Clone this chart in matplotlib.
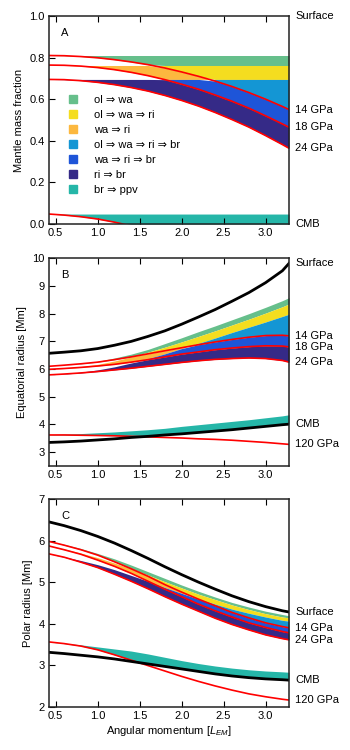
import numpy as np
import matplotlib
matplotlib.use('Agg')
from matplotlib import pyplot as plt
from matplotlib.patches import Patch

plt.rcParams['font.family'] = ['Liberation Sans', 'DejaVu Sans']
plt.rcParams['mathtext.fontset'] = 'custom'
plt.rcParams['mathtext.rm'] = 'Liberation Sans'
plt.rcParams['mathtext.it'] = 'Liberation Sans:italic'
plt.rcParams['font.size'] = 8

# angular momentum [L_EM]
L = np.array([0.42, 0.6, 0.8, 1.0, 1.2, 1.4, 1.6, 1.8, 2.0, 2.2, 2.4, 2.6, 2.8, 3.0, 3.2, 3.28])

# A: mantle mass fraction of the pressure surfaces
c14_a = [0.810, 0.809, 0.805, 0.799, 0.790, 0.779, 0.766, 0.750, 0.731, 0.710, 0.687, 0.661, 0.632, 0.600, 0.565, 0.550]
c18_a = [0.764, 0.763, 0.759, 0.752, 0.742, 0.729, 0.713, 0.694, 0.672, 0.648, 0.620, 0.590, 0.557, 0.520, 0.481, 0.465]
c24_a = [0.695, 0.694, 0.689, 0.681, 0.670, 0.656, 0.639, 0.618, 0.594, 0.567, 0.536, 0.502, 0.466, 0.425, 0.382, 0.364]
c120_a = [0.048, 0.043, 0.035, 0.024, 0.009, -0.009, -0.03, -0.05, -0.07, -0.09, -0.11, -0.13, -0.15, -0.17, -0.19, -0.20]
# initial transition levels (mass fraction)
lev81, lev765, lev70, lev05 = 0.81, 0.762, 0.695, 0.048

# B: equatorial radius [Mm]
surf_b = [6.57, 6.61, 6.66, 6.74, 6.86, 7.00, 7.18, 7.38, 7.62, 7.88, 8.15, 8.45, 8.76, 9.12, 9.55, 9.82]
cmb_b = [3.35, 3.37, 3.40, 3.44, 3.48, 3.53, 3.57, 3.62, 3.66, 3.71, 3.76, 3.81, 3.87, 3.93, 3.99, 4.01]
c14_b = [6.10, 6.14, 6.19, 6.25, 6.34, 6.44, 6.55, 6.66, 6.77, 6.88, 6.98, 7.07, 7.15, 7.21, 7.22, 7.20]
c18_b = [5.99, 6.02, 6.06, 6.11, 6.17, 6.25, 6.34, 6.44, 6.54, 6.62, 6.70, 6.76, 6.81, 6.84, 6.83, 6.80]
c24_b = [5.79, 5.82, 5.86, 5.91, 5.97, 6.03, 6.10, 6.17, 6.24, 6.30, 6.35, 6.38, 6.40, 6.38, 6.31, 6.25]
c120_b = [3.62, 3.62, 3.61, 3.60, 3.59, 3.57, 3.55, 3.53, 3.51, 3.48, 3.46, 3.43, 3.39, 3.35, 3.30, 3.28]
r81_b = [6.10, 6.14, 6.20, 6.28, 6.40, 6.54, 6.71, 6.92, 7.13, 7.35, 7.56, 7.78, 8.00, 8.23, 8.47, 8.58]
r765_b = [5.99, 6.03, 6.09, 6.17, 6.29, 6.44, 6.61, 6.79, 6.98, 7.18, 7.38, 7.59, 7.80, 8.02, 8.25, 8.35]
r70_b = [5.79, 5.83, 5.89, 5.97, 6.08, 6.22, 6.38, 6.55, 6.74, 6.93, 7.12, 7.32, 7.51, 7.70, 7.90, 7.98]
r05_b = [3.63, 3.65, 3.67, 3.70, 3.73, 3.77, 3.81, 3.86, 3.93, 3.99, 4.05, 4.11, 4.17, 4.24, 4.31, 4.35]

# C: polar radius [Mm]
surf_c = [6.45, 6.36, 6.24, 6.10, 5.94, 5.76, 5.57, 5.37, 5.18, 5.00, 4.83, 4.67, 4.53, 4.41, 4.31, 4.28]
cmb_c = [3.31, 3.28, 3.24, 3.20, 3.15, 3.09, 3.03, 2.97, 2.91, 2.85, 2.79, 2.74, 2.70, 2.67, 2.65, 2.64]
c14_c = [5.98, 5.89, 5.78, 5.65, 5.49, 5.32, 5.14, 4.94, 4.76, 4.59, 4.43, 4.27, 4.14, 4.02, 3.93, 3.90]
c18_c = [5.87, 5.78, 5.67, 5.53, 5.38, 5.21, 5.02, 4.83, 4.65, 4.47, 4.31, 4.16, 4.02, 3.91, 3.81, 3.78]
c24_c = [5.68, 5.60, 5.48, 5.35, 5.19, 5.02, 4.84, 4.65, 4.47, 4.30, 4.13, 3.98, 3.85, 3.73, 3.64, 3.61]
c120_c = [3.56, 3.52, 3.46, 3.37, 3.25, 3.12, 2.99, 2.86, 2.73, 2.61, 2.50, 2.40, 2.31, 2.24, 2.18, 2.16]
r81_c = [5.98, 5.91, 5.81, 5.69, 5.56, 5.41, 5.25, 5.09, 4.93, 4.78, 4.64, 4.51, 4.40, 4.30, 4.22, 4.19]
r765_c = [5.87, 5.80, 5.70, 5.59, 5.46, 5.32, 5.17, 5.01, 4.86, 4.71, 4.58, 4.45, 4.34, 4.24, 4.16, 4.14]
r70_c = [5.68, 5.61, 5.52, 5.42, 5.30, 5.16, 5.02, 4.87, 4.73, 4.60, 4.47, 4.35, 4.25, 4.16, 4.08, 4.06]
r05_c = [3.56, 3.53, 3.49, 3.44, 3.39, 3.34, 3.27, 3.19, 3.11, 3.04, 2.98, 2.93, 2.89, 2.86, 2.84, 2.83]

names = ['ol ⇒ wa', 'ol ⇒ wa ⇒ ri', 'wa ⇒ ri', 'ol ⇒ wa ⇒ ri ⇒ br',
         'wa ⇒ ri ⇒ br', 'ri ⇒ br', 'br ⇒ ppv']
colors = ['#66bf8b', '#f4dd1f', '#fcb83f', '#1496d4', '#1e55d8', '#352a87', '#25b6a8']


def band(ax, lo, hi, col):
    ax.fill_between(L, lo, hi, where=hi > lo, interpolate=True, color=col, lw=0)


def draw_panel(ax, c14, c18, c24, c120, r81, r765, r70, r05, cmb):
    c14, c18, c24, c120 = map(np.asarray, (c14, c18, c24, c120))
    r81, r765, r70, r05, cmb = map(np.asarray, (r81, r765, r70, r05, cmb))
    band(ax, np.maximum(r765, c14), r81, colors[0])
    band(ax, np.maximum(r70, c14), r765, colors[1])
    band(ax, np.maximum(r70, c18), np.minimum(c14, r765), colors[2])
    band(ax, c14, r70, colors[3])
    band(ax, c18, np.minimum(c14, r70), colors[4])
    band(ax, c24, np.minimum(c18, r70), colors[5])
    band(ax, np.maximum(c120, cmb), r05, colors[6])
    for c in (c14, c18, c24, c120):
        ax.plot(L, c, color='red', lw=1.2)


def style(ax, letter):
    ax.set_xlim(L[0], L[-1])
    ax.set_xticks([0.5, 1.0, 1.5, 2.0, 2.5, 3.0])
    ax.tick_params(direction='in', top=True, right=False, length=4.3, width=0.8,
                   labelsize=8, pad=3)
    for s in ax.spines.values():
        s.set_linewidth(1.1)
        s.set_color('#222222')
    ax.text(0.05, 0.92, letter, transform=ax.transAxes, va='center', fontsize=8)


def side_labels(ax, items):
    tr = ax.get_yaxis_transform()
    for txt, y in items:
        ax.text(1.025, y, txt, transform=tr, va='center', ha='left', fontsize=8)


fig = plt.figure(figsize=(3.5, 7.5), dpi=100)
axA = fig.add_axes([0.14, 0.7013, 0.686, 0.2774])
axB = fig.add_axes([0.14, 0.3787, 0.686, 0.2769])
axC = fig.add_axes([0.14, 0.0577, 0.686, 0.2769])

# A
n = len(L)
draw_panel(axA, c14_a, c18_a, c24_a, c120_a,
           np.full(n, lev81), np.full(n, lev765), np.full(n, lev70), np.full(n, lev05),
           np.zeros(n))
axA.set_ylim(0, 1)
axA.set_yticks([0, 0.2, 0.4, 0.6, 0.8, 1.0])
axA.set_ylabel('Mantle mass fraction', fontsize=8)
style(axA, 'A')
side_labels(axA, [('Surface', 1.0), ('14 GPa', c14_a[-1]), ('18 GPa', c18_a[-1]),
                  ('24 GPa', c24_a[-1]), ('CMB', 0.0)])
handles = [Patch(color=c, label=t) for c, t in zip(colors, names)]
axA.legend(handles=handles, loc='upper left', bbox_to_anchor=(0.083, 0.62),
           frameon=False, borderpad=0, borderaxespad=0, handlelength=0.75,
           handleheight=0.75, handletextpad=1.5, labelspacing=0.45, fontsize=8)

# B
draw_panel(axB, c14_b, c18_b, c24_b, c120_b, r81_b, r765_b, r70_b, r05_b, cmb_b)
axB.plot(L, surf_b, color='black', lw=2)
axB.plot(L, cmb_b, color='black', lw=2)
axB.set_ylim(2.5, 10)
axB.set_yticks(range(3, 11))
axB.set_ylabel('Equatorial radius [Mm]', fontsize=8)
style(axB, 'B')
side_labels(axB, [('Surface', surf_b[-1]), ('14 GPa', c14_b[-1]), ('18 GPa', c18_b[-1]),
                  ('24 GPa', c24_b[-1]), ('CMB', cmb_b[-1]), ('120 GPa', c120_b[-1])])

# C
draw_panel(axC, c14_c, c18_c, c24_c, c120_c, r81_c, r765_c, r70_c, r05_c, cmb_c)
axC.plot(L, surf_c, color='black', lw=2)
axC.plot(L, cmb_c, color='black', lw=2)
axC.set_ylim(2, 7)
axC.set_yticks(range(2, 8))
axC.set_ylabel('Polar radius [Mm]', fontsize=8)
axC.set_xlabel(r'Angular momentum [$L_{EM}$]', fontsize=8, labelpad=2)
style(axC, 'C')
side_labels(axC, [('Surface', surf_c[-1]), ('14 GPa', c14_c[-1]), ('24 GPa', c24_c[-1]),
                  ('CMB', cmb_c[-1]), ('120 GPa', c120_c[-1])])

fig.savefig('out.png', dpi=100)
